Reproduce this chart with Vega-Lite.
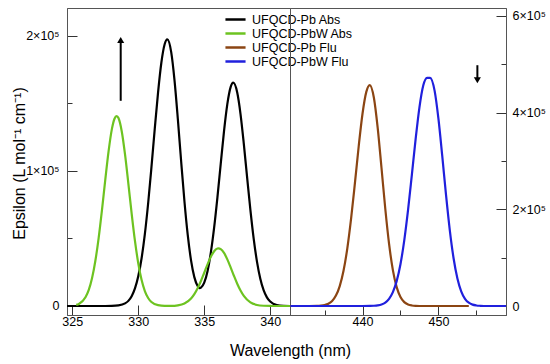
{
  "$schema": "https://vega.github.io/schema/vega-lite/v6.json",
  "background": "white",
  "padding": {"left": 10, "top": 7, "right": 0, "bottom": 0},
  "bounds": "flush",
  "spacing": 0,
  "config": {
    "font": "Liberation Sans",
    "view": {"stroke": "#555555", "strokeWidth": 1},
    "axis": {"domainColor": "#555555", "tickColor": "#333333", "labelColor": "#000000", "titleColor": "#000000", "labelFont": "Liberation Sans", "titleFont": "Liberation Sans", "labelFontSize": 12.5, "titleFontSize": 16, "titleFontWeight": "normal", "grid": false, "labelFlush": false, "labelOverlap": false}
  },
  "datasets": {
    "abs": [
      {"series": "UFQCD-Pb Abs", "wl": 324.6, "eps": 0},
      {"series": "UFQCD-Pb Abs", "wl": 325, "eps": 0},
      {"series": "UFQCD-Pb Abs", "wl": 326, "eps": 0},
      {"series": "UFQCD-Pb Abs", "wl": 327, "eps": 0},
      {"series": "UFQCD-Pb Abs", "wl": 327.5, "eps": 0},
      {"series": "UFQCD-Pb Abs", "wl": 328, "eps": 50},
      {"series": "UFQCD-Pb Abs", "wl": 328.5, "eps": 400},
      {"series": "UFQCD-Pb Abs", "wl": 329, "eps": 1900},
      {"series": "UFQCD-Pb Abs", "wl": 329.25, "eps": 3800},
      {"series": "UFQCD-Pb Abs", "wl": 329.5, "eps": 7250},
      {"series": "UFQCD-Pb Abs", "wl": 329.75, "eps": 13000},
      {"series": "UFQCD-Pb Abs", "wl": 330, "eps": 22000},
      {"series": "UFQCD-Pb Abs", "wl": 330.25, "eps": 35200},
      {"series": "UFQCD-Pb Abs", "wl": 330.5, "eps": 53200},
      {"series": "UFQCD-Pb Abs", "wl": 330.75, "eps": 76100},
      {"series": "UFQCD-Pb Abs", "wl": 331, "eps": 102800},
      {"series": "UFQCD-Pb Abs", "wl": 331.25, "eps": 131200},
      {"series": "UFQCD-Pb Abs", "wl": 331.5, "eps": 158100},
      {"series": "UFQCD-Pb Abs", "wl": 331.75, "eps": 180200},
      {"series": "UFQCD-Pb Abs", "wl": 332, "eps": 193900},
      {"series": "UFQCD-Pb Abs", "wl": 332.2, "eps": 197500},
      {"series": "UFQCD-Pb Abs", "wl": 332.5, "eps": 187900},
      {"series": "UFQCD-Pb Abs", "wl": 332.75, "eps": 167000},
      {"series": "UFQCD-Pb Abs", "wl": 333, "eps": 138500},
      {"series": "UFQCD-Pb Abs", "wl": 333.25, "eps": 107200},
      {"series": "UFQCD-Pb Abs", "wl": 333.5, "eps": 77600},
      {"series": "UFQCD-Pb Abs", "wl": 333.75, "eps": 52600},
      {"series": "UFQCD-Pb Abs", "wl": 334, "eps": 33800},
      {"series": "UFQCD-Pb Abs", "wl": 334.25, "eps": 21400},
      {"series": "UFQCD-Pb Abs", "wl": 334.5, "eps": 14800},
      {"series": "UFQCD-Pb Abs", "wl": 334.65, "eps": 13200},
      {"series": "UFQCD-Pb Abs", "wl": 334.75, "eps": 13600},
      {"series": "UFQCD-Pb Abs", "wl": 335, "eps": 17300},
      {"series": "UFQCD-Pb Abs", "wl": 335.25, "eps": 25800},
      {"series": "UFQCD-Pb Abs", "wl": 335.5, "eps": 39500},
      {"series": "UFQCD-Pb Abs", "wl": 335.75, "eps": 58000},
      {"series": "UFQCD-Pb Abs", "wl": 336, "eps": 80500},
      {"series": "UFQCD-Pb Abs", "wl": 336.25, "eps": 105300},
      {"series": "UFQCD-Pb Abs", "wl": 336.5, "eps": 129500},
      {"series": "UFQCD-Pb Abs", "wl": 336.75, "eps": 149500},
      {"series": "UFQCD-Pb Abs", "wl": 337, "eps": 162100},
      {"series": "UFQCD-Pb Abs", "wl": 337.2, "eps": 165400},
      {"series": "UFQCD-Pb Abs", "wl": 337.5, "eps": 158100},
      {"series": "UFQCD-Pb Abs", "wl": 337.75, "eps": 142200},
      {"series": "UFQCD-Pb Abs", "wl": 338, "eps": 120100},
      {"series": "UFQCD-Pb Abs", "wl": 338.25, "eps": 95300},
      {"series": "UFQCD-Pb Abs", "wl": 338.5, "eps": 71100},
      {"series": "UFQCD-Pb Abs", "wl": 338.75, "eps": 49800},
      {"series": "UFQCD-Pb Abs", "wl": 339, "eps": 32700},
      {"series": "UFQCD-Pb Abs", "wl": 339.25, "eps": 20200},
      {"series": "UFQCD-Pb Abs", "wl": 339.5, "eps": 11700},
      {"series": "UFQCD-Pb Abs", "wl": 339.75, "eps": 6400},
      {"series": "UFQCD-Pb Abs", "wl": 340, "eps": 3300},
      {"series": "UFQCD-Pb Abs", "wl": 340.5, "eps": 700},
      {"series": "UFQCD-Pb Abs", "wl": 341, "eps": 100},
      {"series": "UFQCD-Pb Abs", "wl": 341.5, "eps": 0},
      {"series": "UFQCD-PbW Abs", "wl": 325.3, "eps": 790},
      {"series": "UFQCD-PbW Abs", "wl": 325.5, "eps": 1510},
      {"series": "UFQCD-PbW Abs", "wl": 326, "eps": 6430},
      {"series": "UFQCD-PbW Abs", "wl": 326.25, "eps": 11900},
      {"series": "UFQCD-PbW Abs", "wl": 326.5, "eps": 20700},
      {"series": "UFQCD-PbW Abs", "wl": 326.75, "eps": 33500},
      {"series": "UFQCD-PbW Abs", "wl": 327, "eps": 50500},
      {"series": "UFQCD-PbW Abs", "wl": 327.25, "eps": 71100},
      {"series": "UFQCD-PbW Abs", "wl": 327.5, "eps": 93400},
      {"series": "UFQCD-PbW Abs", "wl": 327.75, "eps": 114500},
      {"series": "UFQCD-PbW Abs", "wl": 328, "eps": 131000},
      {"series": "UFQCD-PbW Abs", "wl": 328.2, "eps": 138700},
      {"series": "UFQCD-PbW Abs", "wl": 328.36, "eps": 140700},
      {"series": "UFQCD-PbW Abs", "wl": 328.5, "eps": 139200},
      {"series": "UFQCD-PbW Abs", "wl": 328.75, "eps": 129300},
      {"series": "UFQCD-PbW Abs", "wl": 329, "eps": 112100},
      {"series": "UFQCD-PbW Abs", "wl": 329.25, "eps": 90700},
      {"series": "UFQCD-PbW Abs", "wl": 329.5, "eps": 68500},
      {"series": "UFQCD-PbW Abs", "wl": 329.75, "eps": 48200},
      {"series": "UFQCD-PbW Abs", "wl": 330, "eps": 31700},
      {"series": "UFQCD-PbW Abs", "wl": 330.25, "eps": 19400},
      {"series": "UFQCD-PbW Abs", "wl": 330.5, "eps": 11100},
      {"series": "UFQCD-PbW Abs", "wl": 330.75, "eps": 5940},
      {"series": "UFQCD-PbW Abs", "wl": 331, "eps": 2960},
      {"series": "UFQCD-PbW Abs", "wl": 331.5, "eps": 600},
      {"series": "UFQCD-PbW Abs", "wl": 332, "eps": 110},
      {"series": "UFQCD-PbW Abs", "wl": 332.5, "eps": 100},
      {"series": "UFQCD-PbW Abs", "wl": 333, "eps": 490},
      {"series": "UFQCD-PbW Abs", "wl": 333.5, "eps": 1850},
      {"series": "UFQCD-PbW Abs", "wl": 334, "eps": 5560},
      {"series": "UFQCD-PbW Abs", "wl": 334.25, "eps": 8810},
      {"series": "UFQCD-PbW Abs", "wl": 334.5, "eps": 13170},
      {"series": "UFQCD-PbW Abs", "wl": 334.75, "eps": 18550},
      {"series": "UFQCD-PbW Abs", "wl": 335, "eps": 24640},
      {"series": "UFQCD-PbW Abs", "wl": 335.25, "eps": 30860},
      {"series": "UFQCD-PbW Abs", "wl": 335.5, "eps": 36440},
      {"series": "UFQCD-PbW Abs", "wl": 335.75, "eps": 40570},
      {"series": "UFQCD-PbW Abs", "wl": 336, "eps": 42570},
      {"series": "UFQCD-PbW Abs", "wl": 336.08, "eps": 42700},
      {"series": "UFQCD-PbW Abs", "wl": 336.25, "eps": 42120},
      {"series": "UFQCD-PbW Abs", "wl": 336.5, "eps": 39290},
      {"series": "UFQCD-PbW Abs", "wl": 336.75, "eps": 34560},
      {"series": "UFQCD-PbW Abs", "wl": 337, "eps": 28660},
      {"series": "UFQCD-PbW Abs", "wl": 337.25, "eps": 22400},
      {"series": "UFQCD-PbW Abs", "wl": 337.5, "eps": 16510},
      {"series": "UFQCD-PbW Abs", "wl": 337.75, "eps": 11470},
      {"series": "UFQCD-PbW Abs", "wl": 338, "eps": 7520},
      {"series": "UFQCD-PbW Abs", "wl": 338.5, "eps": 2700},
      {"series": "UFQCD-PbW Abs", "wl": 339, "eps": 770},
      {"series": "UFQCD-PbW Abs", "wl": 339.5, "eps": 170},
      {"series": "UFQCD-PbW Abs", "wl": 340, "eps": 30},
      {"series": "UFQCD-PbW Abs", "wl": 340.5, "eps": 0},
      {"series": "UFQCD-PbW Abs", "wl": 341.5, "eps": 0}
    ],
    "flu": [
      {"series": "UFQCD-Pb Flu", "wl": 430.5, "eps": 0},
      {"series": "UFQCD-Pb Flu", "wl": 433, "eps": 0},
      {"series": "UFQCD-Pb Flu", "wl": 434, "eps": 260},
      {"series": "UFQCD-Pb Flu", "wl": 434.5, "eps": 740},
      {"series": "UFQCD-Pb Flu", "wl": 435, "eps": 1940},
      {"series": "UFQCD-Pb Flu", "wl": 435.5, "eps": 4670},
      {"series": "UFQCD-Pb Flu", "wl": 436, "eps": 10400},
      {"series": "UFQCD-Pb Flu", "wl": 436.5, "eps": 21500},
      {"series": "UFQCD-Pb Flu", "wl": 437, "eps": 41200},
      {"series": "UFQCD-Pb Flu", "wl": 437.5, "eps": 72800},
      {"series": "UFQCD-Pb Flu", "wl": 438, "eps": 119300},
      {"series": "UFQCD-Pb Flu", "wl": 438.5, "eps": 181000},
      {"series": "UFQCD-Pb Flu", "wl": 439, "eps": 254100},
      {"series": "UFQCD-Pb Flu", "wl": 439.5, "eps": 330400},
      {"series": "UFQCD-Pb Flu", "wl": 440, "eps": 397600},
      {"series": "UFQCD-Pb Flu", "wl": 440.5, "eps": 442900},
      {"series": "UFQCD-Pb Flu", "wl": 440.95, "eps": 457000},
      {"series": "UFQCD-Pb Flu", "wl": 441.5, "eps": 430800},
      {"series": "UFQCD-Pb Flu", "wl": 442, "eps": 368500},
      {"series": "UFQCD-Pb Flu", "wl": 442.5, "eps": 285900},
      {"series": "UFQCD-Pb Flu", "wl": 443, "eps": 201100},
      {"series": "UFQCD-Pb Flu", "wl": 443.5, "eps": 128300},
      {"series": "UFQCD-Pb Flu", "wl": 444, "eps": 74300},
      {"series": "UFQCD-Pb Flu", "wl": 444.5, "eps": 39000},
      {"series": "UFQCD-Pb Flu", "wl": 445, "eps": 18600},
      {"series": "UFQCD-Pb Flu", "wl": 445.5, "eps": 8000},
      {"series": "UFQCD-Pb Flu", "wl": 446, "eps": 3100},
      {"series": "UFQCD-Pb Flu", "wl": 446.5, "eps": 1100},
      {"series": "UFQCD-Pb Flu", "wl": 447, "eps": 360},
      {"series": "UFQCD-Pb Flu", "wl": 448, "eps": 0},
      {"series": "UFQCD-Pb Flu", "wl": 454, "eps": 0},
      {"series": "UFQCD-PbW Flu", "wl": 430.5, "eps": 0},
      {"series": "UFQCD-PbW Flu", "wl": 440, "eps": 0},
      {"series": "UFQCD-PbW Flu", "wl": 441, "eps": 190},
      {"series": "UFQCD-PbW Flu", "wl": 441.5, "eps": 530},
      {"series": "UFQCD-PbW Flu", "wl": 442, "eps": 1360},
      {"series": "UFQCD-PbW Flu", "wl": 442.5, "eps": 3200},
      {"series": "UFQCD-PbW Flu", "wl": 443, "eps": 7150},
      {"series": "UFQCD-PbW Flu", "wl": 443.5, "eps": 14800},
      {"series": "UFQCD-PbW Flu", "wl": 444, "eps": 28600},
      {"series": "UFQCD-PbW Flu", "wl": 444.5, "eps": 51500},
      {"series": "UFQCD-PbW Flu", "wl": 445, "eps": 86500},
      {"series": "UFQCD-PbW Flu", "wl": 445.5, "eps": 135700},
      {"series": "UFQCD-PbW Flu", "wl": 446, "eps": 198600},
      {"series": "UFQCD-PbW Flu", "wl": 446.5, "eps": 271300},
      {"series": "UFQCD-PbW Flu", "wl": 447, "eps": 345600},
      {"series": "UFQCD-PbW Flu", "wl": 447.5, "eps": 411000},
      {"series": "UFQCD-PbW Flu", "wl": 448, "eps": 456000},
      {"series": "UFQCD-PbW Flu", "wl": 448.5, "eps": 472000},
      {"series": "UFQCD-PbW Flu", "wl": 448.9, "eps": 472000},
      {"series": "UFQCD-PbW Flu", "wl": 449.5, "eps": 445000},
      {"series": "UFQCD-PbW Flu", "wl": 450, "eps": 387400},
      {"series": "UFQCD-PbW Flu", "wl": 450.5, "eps": 310800},
      {"series": "UFQCD-PbW Flu", "wl": 451, "eps": 229800},
      {"series": "UFQCD-PbW Flu", "wl": 451.5, "eps": 156500},
      {"series": "UFQCD-PbW Flu", "wl": 452, "eps": 98300},
      {"series": "UFQCD-PbW Flu", "wl": 452.5, "eps": 56900},
      {"series": "UFQCD-PbW Flu", "wl": 453, "eps": 30400},
      {"series": "UFQCD-PbW Flu", "wl": 453.5, "eps": 14900},
      {"series": "UFQCD-PbW Flu", "wl": 454, "eps": 6750},
      {"series": "UFQCD-PbW Flu", "wl": 454.5, "eps": 2800},
      {"series": "UFQCD-PbW Flu", "wl": 455, "eps": 1100},
      {"series": "UFQCD-PbW Flu", "wl": 455.5, "eps": 380},
      {"series": "UFQCD-PbW Flu", "wl": 456, "eps": 0},
      {"series": "UFQCD-PbW Flu", "wl": 458.9, "eps": 0}
    ]
  },
  "hconcat": [
    {
      "width": 223,
      "height": 307,
      "layer": [
        {
          "data": {"name": "abs"},
          "mark": {"type": "line", "strokeWidth": 2.2, "interpolate": "monotone", "clip": true},
          "encoding": {
            "x": {
              "field": "wl", "type": "quantitative",
              "scale": {"domain": [324.6, 341.5], "nice": false, "zero": false},
              "axis": {
                "values": [325, 327.5, 330, 332.5, 335, 337.5, 340],
                "tickSize": {"condition": {"test": "datum.value % 5 != 0", "value": -5}, "value": -10},
                "labelPadding": 10,
                "labelExpr": "datum.value % 5 == 0 ? datum.label : ''",
                "title": "Wavelength (nm)",
                "titleX": 223, "titleY": 40, "titleAlign": "center", "titleBaseline": "alphabetic"
              }
            },
            "y": {
              "field": "eps", "type": "quantitative",
              "scale": {"domain": [-6667, 220740], "nice": false, "zero": false},
              "axis": {
                "values": [0, 50000, 100000, 150000, 200000],
                "tickSize": {"condition": {"test": "datum.value % 100000 != 0", "value": -5}, "value": -10},
                "labelPadding": 18,
                "labelExpr": "datum.value == 0 ? '0' : (datum.value % 100000 == 0 ? (datum.value / 100000) + '×10⁵' : '')",
                "title": "Epsilon (L mol⁻¹  cm⁻¹)",
                "titleX": -43, "titleY": 155, "titleAngle": -90, "titleAlign": "center", "titleBaseline": "alphabetic"
              }
            },
            "color": {
              "field": "series", "type": "nominal",
              "scale": {"domain": ["UFQCD-Pb Abs", "UFQCD-PbW Abs", "UFQCD-Pb Flu", "UFQCD-PbW Flu"], "range": ["#000000", "#6DC321", "#8B4513", "#2020DD"]},
              "legend": {"orient": "none", "legendX": 161, "legendY": 4, "title": null, "symbolType": "M-1.7,0H1.7", "symbolSize": 140, "symbolStrokeWidth": 2.5, "labelFontSize": 12.5, "labelFont": "Liberation Sans", "labelColor": "#000000", "rowPadding": 0, "labelOffset": 9, "padding": 0}
            }
          }
        },
        {
          "data": {"values": [{"wl": 328.67, "y1": 152000, "y2": 196000}]},
          "mark": {"type": "rule", "strokeWidth": 2, "color": "#000000"},
          "encoding": {
            "x": {"field": "wl", "type": "quantitative"},
            "y": {"field": "y1", "type": "quantitative"},
            "y2": {"field": "y2"}
          }
        },
        {
          "data": {"values": [{"wl": 328.67, "y": 197000}]},
          "mark": {"type": "point", "shape": "triangle-up", "filled": true, "size": 50, "color": "#000000", "opacity": 1},
          "encoding": {
            "x": {"field": "wl", "type": "quantitative"},
            "y": {"field": "y", "type": "quantitative"}
          }
        }
      ]
    },
    {
      "width": 216,
      "height": 307,
      "layer": [
        {
          "data": {"name": "flu"},
          "mark": {"type": "line", "strokeWidth": 2.2, "interpolate": "monotone", "clip": true},
          "encoding": {
            "x": {
              "field": "wl", "type": "quantitative",
              "scale": {"domain": [430.45, 458.9], "nice": false, "zero": false},
              "axis": {
                "values": [435, 440, 445, 450, 455],
                "tickSize": {"condition": {"test": "datum.value % 10 != 0", "value": -5}, "value": -10},
                "labelPadding": 10,
                "labelExpr": "datum.value % 10 == 0 ? datum.label : ''",
                "title": null
              }
            },
            "y": {
              "field": "eps", "type": "quantitative",
              "scale": {"domain": [-18614, 616339], "nice": false, "zero": false},
              "axis": {
                "orient": "right",
                "values": [0, 100000, 200000, 300000, 400000, 500000, 600000],
                "tickSize": {"condition": {"test": "datum.value % 200000 != 0", "value": -5}, "value": -10},
                "labelPadding": 16,
                "labelExpr": "datum.value == 0 ? '0' : (datum.value % 200000 == 0 ? (datum.value / 100000) + '×10⁵' : '')",
                "title": null
              }
            },
            "color": {
              "field": "series", "type": "nominal",
              "scale": {"domain": ["UFQCD-Pb Abs", "UFQCD-PbW Abs", "UFQCD-Pb Flu", "UFQCD-PbW Flu"], "range": ["#000000", "#6DC321", "#8B4513", "#2020DD"]},
              "legend": null
            }
          }
        },
        {
          "data": {"values": [{"wl": 455.13, "y1": 498000, "y2": 468000}]},
          "mark": {"type": "rule", "strokeWidth": 2, "color": "#000000"},
          "encoding": {
            "x": {"field": "wl", "type": "quantitative"},
            "y": {"field": "y1", "type": "quantitative"},
            "y2": {"field": "y2"}
          }
        },
        {
          "data": {"values": [{"wl": 455.13, "y": 467000}]},
          "mark": {"type": "point", "shape": "triangle-down", "filled": true, "size": 50, "color": "#000000", "opacity": 1},
          "encoding": {
            "x": {"field": "wl", "type": "quantitative"},
            "y": {"field": "y", "type": "quantitative"}
          }
        }
      ]
    }
  ],
  "resolve": {"scale": {"x": "independent", "y": "independent", "color": "independent"}, "legend": {"color": "independent"}}
}
